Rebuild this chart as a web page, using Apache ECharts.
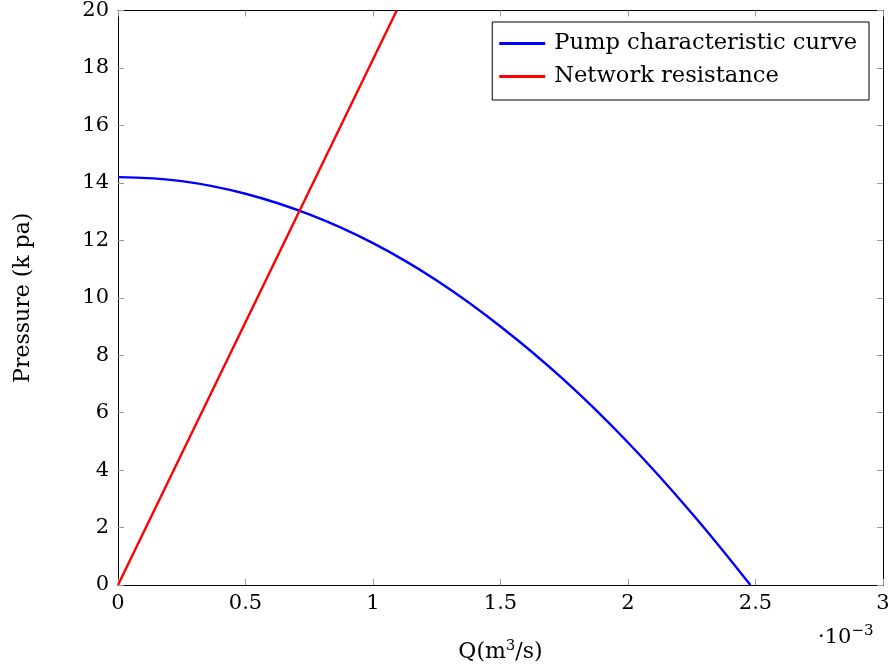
<!DOCTYPE html>
<html><head><meta charset="utf-8">
<script src="https://cdn.jsdelivr.net/npm/echarts@6/dist/echarts.min.js"></script>
<style>html,body{margin:0;padding:0;background:#fff}#c{width:893px;height:672px}</style>
</head><body><div id="c"></div>
<script>
// Q in units of 1e-3 m^3/s, pressure in kPa
const pumpQ = [0, 0.25, 0.5, 0.75, 1.0, 1.25, 1.5, 1.75, 2.0, 2.25, 2.48];
const pumpP = [14.2, 14.06, 13.62, 12.9, 11.9, 10.6, 9.0, 7.13, 4.96, 2.5, 0];
const netQ = [0, 1.093];
const netP = [0, 20];
const seriesNames = ['Pump characteristic curve', 'Network resistance'];
const xTicks = ['0', '0.5', '1', '1.5', '2', '2.5', '3'];

const font = 'DejaVu Serif';
const chart = echarts.init(document.getElementById('c'));
const tickStyle = {show: true, inside: true, length: 6, lineStyle: {color: '#999', width: 1}};
const axisLine = {show: true, onZero: false, lineStyle: {color: '#000', width: 1}};
chart.setOption({
  animation: false,
  grid: {left: 118, right: 10, top: 10, bottom: 87, containLabel: false},
  legend: {
    data: seriesNames, orient: 'vertical', right: 24, top: 22,
    backgroundColor: '#fff', borderColor: '#000', borderWidth: 1, borderRadius: 0,
    padding: [10, 12, 12, 7], itemGap: 10, itemWidth: 46, itemHeight: 3, icon: 'rect',
    textStyle: {fontFamily: font, fontSize: 22.6, color: '#000', padding: [0, 0, 0, 4]}
  },
  xAxis: [{
    type: 'value', min: 0, max: 3, interval: 0.5,
    axisLine, axisTick: tickStyle, splitLine: {show: false},
    axisLabel: {fontFamily: font, fontSize: 21, color: '#000', margin: 8,
      formatter: v => xTicks[Math.round(v / 0.5)]},
    name: 'Q(m{s|3}/s)', nameLocation: 'middle', nameGap: 54,
    nameTextStyle: {fontFamily: font, fontSize: 22, color: '#000',
      rich: {s: {fontFamily: font, fontSize: 15, verticalAlign: 'top', padding: [0, 0, 11, 0]}}}
  }, {
    type: 'value', min: 0, max: 3, interval: 0.5, position: 'top',
    axisLine, axisTick: tickStyle, axisLabel: {show: false}, splitLine: {show: false}
  }],
  yAxis: [{
    type: 'value', min: 0, max: 20, interval: 2,
    axisLine, axisTick: tickStyle, splitLine: {show: false},
    axisLabel: {fontFamily: font, fontSize: 21, color: '#000', margin: 9},
    name: 'Pressure (k pa)', nameLocation: 'middle', nameGap: 84,
    nameTextStyle: {fontFamily: font, fontSize: 22, color: '#000'}
  }, {
    type: 'value', min: 0, max: 20, interval: 2, position: 'right',
    axisLine, axisTick: tickStyle, axisLabel: {show: false}, splitLine: {show: false}
  }],
  graphic: [{
    type: 'text', left: 818, top: 624,
    style: {text: '·10{s|−3}', fontFamily: font, fontSize: 21, fill: '#000',
      rich: {s: {fontFamily: font, fontSize: 15, verticalAlign: 'top', padding: [0, 0, 12, 0]}}}
  }],
  series: [{
    name: seriesNames[0], type: 'line', smooth: 0.4, symbol: 'none', clip: true,
    data: pumpQ.map((q, i) => [q, pumpP[i]]),
    lineStyle: {color: '#0000ff', width: 2.4}, itemStyle: {color: '#0000ff'}
  }, {
    name: seriesNames[1], type: 'line', symbol: 'none', clip: true,
    data: netQ.map((q, i) => [q, netP[i]]),
    lineStyle: {color: '#ff0000', width: 2.4}, itemStyle: {color: '#ff0000'}
  }]
});
</script></body></html>
